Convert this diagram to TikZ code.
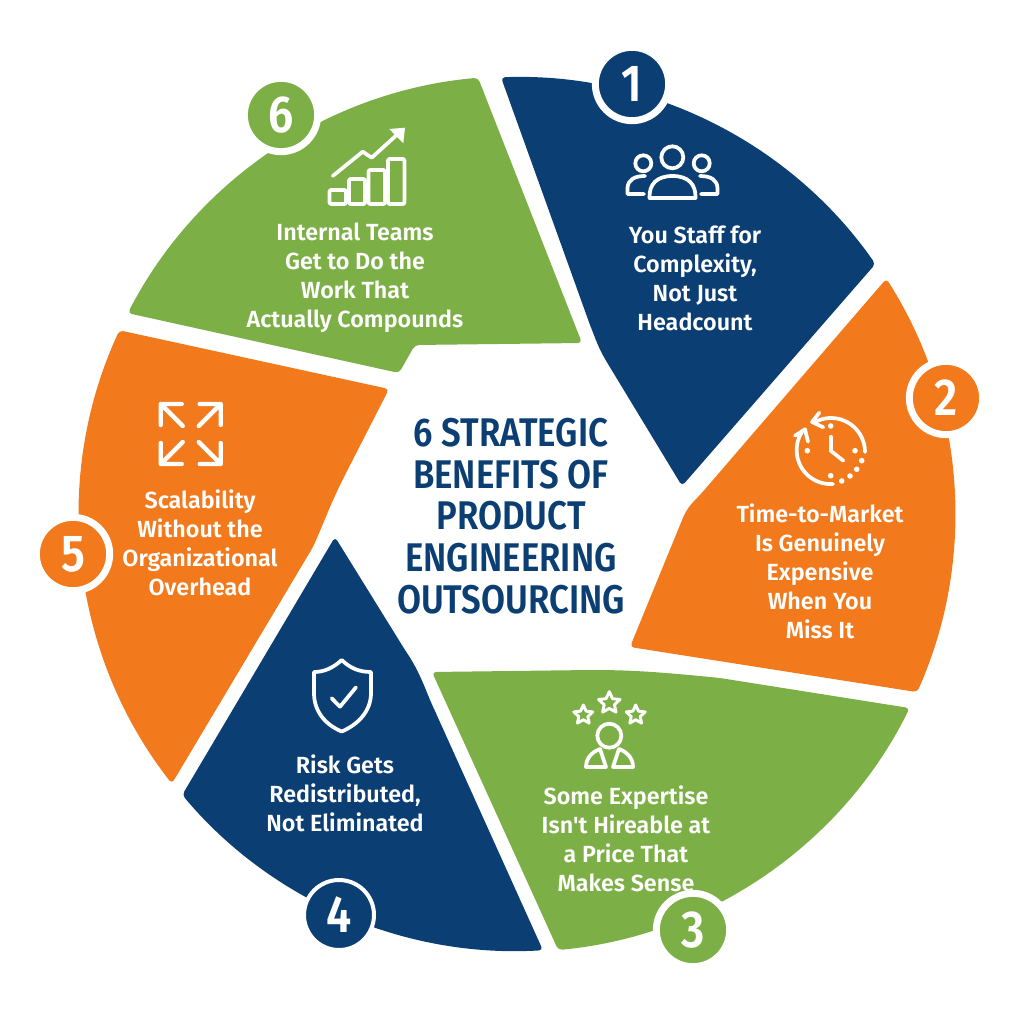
\documentclass[tikz,border=0pt]{standalone}
\usepackage{fontspec}
\setmainfont{Fira Sans SemiBold}[Ligatures=TeXOff]
\newfontfamily\titlefont{Fira Sans SemiBold}[FakeStretch=0.87]
\usetikzlibrary{calc,shapes.geometric}
\definecolor{seg_navy}{HTML}{0B3F73}
\definecolor{seg_orange}{HTML}{F2791C}
\definecolor{seg_green}{HTML}{7DAF47}
\begin{document}
\begin{tikzpicture}[
  x=0.75pt, y=-0.75pt,
  seg/.style={rounded corners=3pt},
  badge/.style={circle, draw=white, line width=5.25pt, minimum size=55pt, inner sep=0pt, text=white, font=\fontsize{39}{39}\titlefont},
  seg_text/.style={align=center, text=white, inner sep=0pt, font=\fontsize{17.5}{21.75}\selectfont},
  title_text/.style={align=center, text=seg_navy, inner sep=0pt, font=\fontsize{30}{31.2}\titlefont},
  icon/.style={draw=white, line width=2.8pt, line cap=round, line join=round},
  icon_star/.style={star, star points=5, star point ratio=2.1, draw=white, line width=2.2pt, inner sep=0pt, line join=round},
]
\useasboundingbox (0,0) rectangle (1024,1024);
\coordinate (c) at (517,514);

\fill[seg, seg_navy] ($(c)+(-92.1:437)$) arc[start angle=-92.1, end angle=-34.9, radius=437] -- (682,486) -- (608,364) .. controls (598,347) and (596,340) .. (590,325) -- cycle;
\fill[seg, seg_orange] ($(c)+(-32.5:438)$) arc[start angle=-32.5, end angle=24, radius=438] -- (630,647) -- (680,525) .. controls (686,510) and (690,505) .. (700,495) -- cycle;
\fill[seg, seg_green] ($(c)+(26.3:438)$) arc[start angle=26.3, end angle=84.6, radius=438] -- (432,672) -- (590,670) .. controls (630,670) and (660,672) .. (720,678) -- cycle;
\fill[seg, seg_navy] ($(c)+(86.6:437)$) arc[start angle=86.6, end angle=140, radius=437] -- (335,537) -- (405,650) .. controls (415,665) and (420,675) .. (430,700) -- cycle;
\fill[seg, seg_orange] ($(c)+(142:438)$) arc[start angle=142, end angle=204.8, radius=438] -- (389,389) -- (345,475) .. controls (330,505) and (325,520) .. (313,547) -- cycle;
\fill[seg, seg_green] ($(c)+(207.3:438)$) arc[start angle=207.3, end angle=264.9, radius=438] -- (582,343) -- (415,345) -- (399,373) -- cycle;

\draw (632,84) node (num_one) [badge, fill=seg_navy] {1};
\draw (946,398) node (num_two) [badge, fill=seg_orange] {2};
\draw (693,930) node (num_three) [badge, fill=seg_green] {3};
\draw (339,915) node (num_four) [badge, fill=seg_navy, minimum size=52.5pt, line width=3pt] {4};
\draw (73,554) node (num_five) [badge, fill=seg_orange] {5};
\draw (281,115) node (num_six) [badge, fill=seg_green] {6};

\draw (511,516) node (title) [title_text] {6 STRATEGIC\\BENEFITS OF\\PRODUCT\\ENGINEERING\\OUTSOURCING};
\draw (695,278) node (txt_one) [seg_text] {You Staff for\\Complexity,\\Not Just\\Headcount};
\draw (820,571) node (txt_two) [seg_text] {Time-to-Market\\Is Genuinely\\Expensive\\When You\\Miss It};
\draw (626,839) node (txt_three) [seg_text] {Some Expertise\\Isn't Hireable at\\a Price That\\Makes Sense};
\draw (345,793) node (txt_four) [seg_text] {Risk Gets\\Redistributed,\\Not Eliminated};
\draw (200,543) node (txt_five) [seg_text] {Scalability\\Without the\\Organizational\\Overhead};
\draw (355,278) node (txt_six) [seg_text] {Internal Teams\\Get to Do the\\Work That\\Actually Compounds};

\draw[icon] (672.3,157.3) circle[radius=11];
\draw[icon] (643.3,163.3) circle[radius=8];
\draw[icon] (701.7,163.3) circle[radius=8];
\draw[icon] (649.5,198) -- (695.5,198) .. controls (696,184) and (688,176) .. (672.5,176) .. controls (657,176) and (649,184) .. (649.5,198) -- cycle;
\draw[icon] (644,194) -- (627.5,194) -- (627.5,188) .. controls (628,180) and (634,176) .. (645,176);
\draw[icon] (701,194) -- (717.5,194) -- (717.5,188) .. controls (717,180) and (711,176) .. (700,176);

\draw[icon] (830.7,450.7) -- (830.7,436.7);
\draw[icon] (830.7,450.7) -- (843.3,460.7);
\foreach \dotx/\doty in {830.7/426, 807.3/450.7, 855/450.7, 830.7/475.7, 861.7/460.7, 856.7/469.3, 850/476, 841.7/481}
  \fill[white] (\dotx,\doty) circle[radius=2.8];
\draw[icon] (865,452) arc[start angle=0, end angle=-115, radius=34];
\draw[icon] (819.3,412.7) -- (812,422) -- (823.3,427.3);
\draw[icon] (833,484) arc[start angle=86, end angle=212, radius=34];
\draw[icon] (795,435.7) -- (805,429.3) -- (808,441.7);

\draw[icon] (609.3,735.7) circle[radius=12];
\draw[icon] (586,767) .. controls (586,758) and (592,752) .. (600,749) -- (606,767) -- cycle;
\draw[icon] (633,767) .. controls (633,758) and (627,752) .. (619,749) -- (613,767) -- cycle;
\draw (609.3,703) node (star_mid) [icon_star, minimum size=17pt] {};
\draw (583.3,715) node (star_left) [icon_star, minimum size=15pt] {};
\draw (635.7,715) node (star_right) [icon_star, minimum size=15pt] {};

\draw[icon] (341.7,660) .. controls (333,668) and (324,672) .. (314,672) -- (314,693) .. controls (314,712) and (326,725) .. (341.7,731.5) .. controls (357,725) and (371,712) .. (371,693) -- (371,672) .. controls (359,672) and (350,668) .. (341.7,660) -- cycle;
\draw[icon] (331.7,698.3) -- (340,706.7) -- (356,687.3);

\foreach \tipx/\tipy/\sx/\sy in {160.7/404/1/1, 220.7/404/-1/1, 160.7/464/1/-1, 220.7/464/-1/-1}
  \draw[icon, line width=3.3pt] (\tipx+21*\sx,\tipy) -- (\tipx,\tipy) -- (\tipx,\tipy+21*\sy) (\tipx,\tipy) -- (\tipx+22*\sx,\tipy+22*\sy);

\draw[icon, rounded corners=1pt] (329.5,190) rectangle (346,204);
\draw[icon, rounded corners=1pt] (349,179) rectangle (365,204);
\draw[icon, rounded corners=1pt] (368.5,170) rectangle (385,204);
\draw[icon, rounded corners=1pt] (388,159) rectangle (404.5,204);
\draw[icon] (332.7,176) -- (362.7,151.7) -- (371.7,157.7) -- (400,132);
\fill[white] (389.3,129) -- (405,127.7) -- (403.3,143.3) -- cycle;
\end{tikzpicture}
\end{document}
